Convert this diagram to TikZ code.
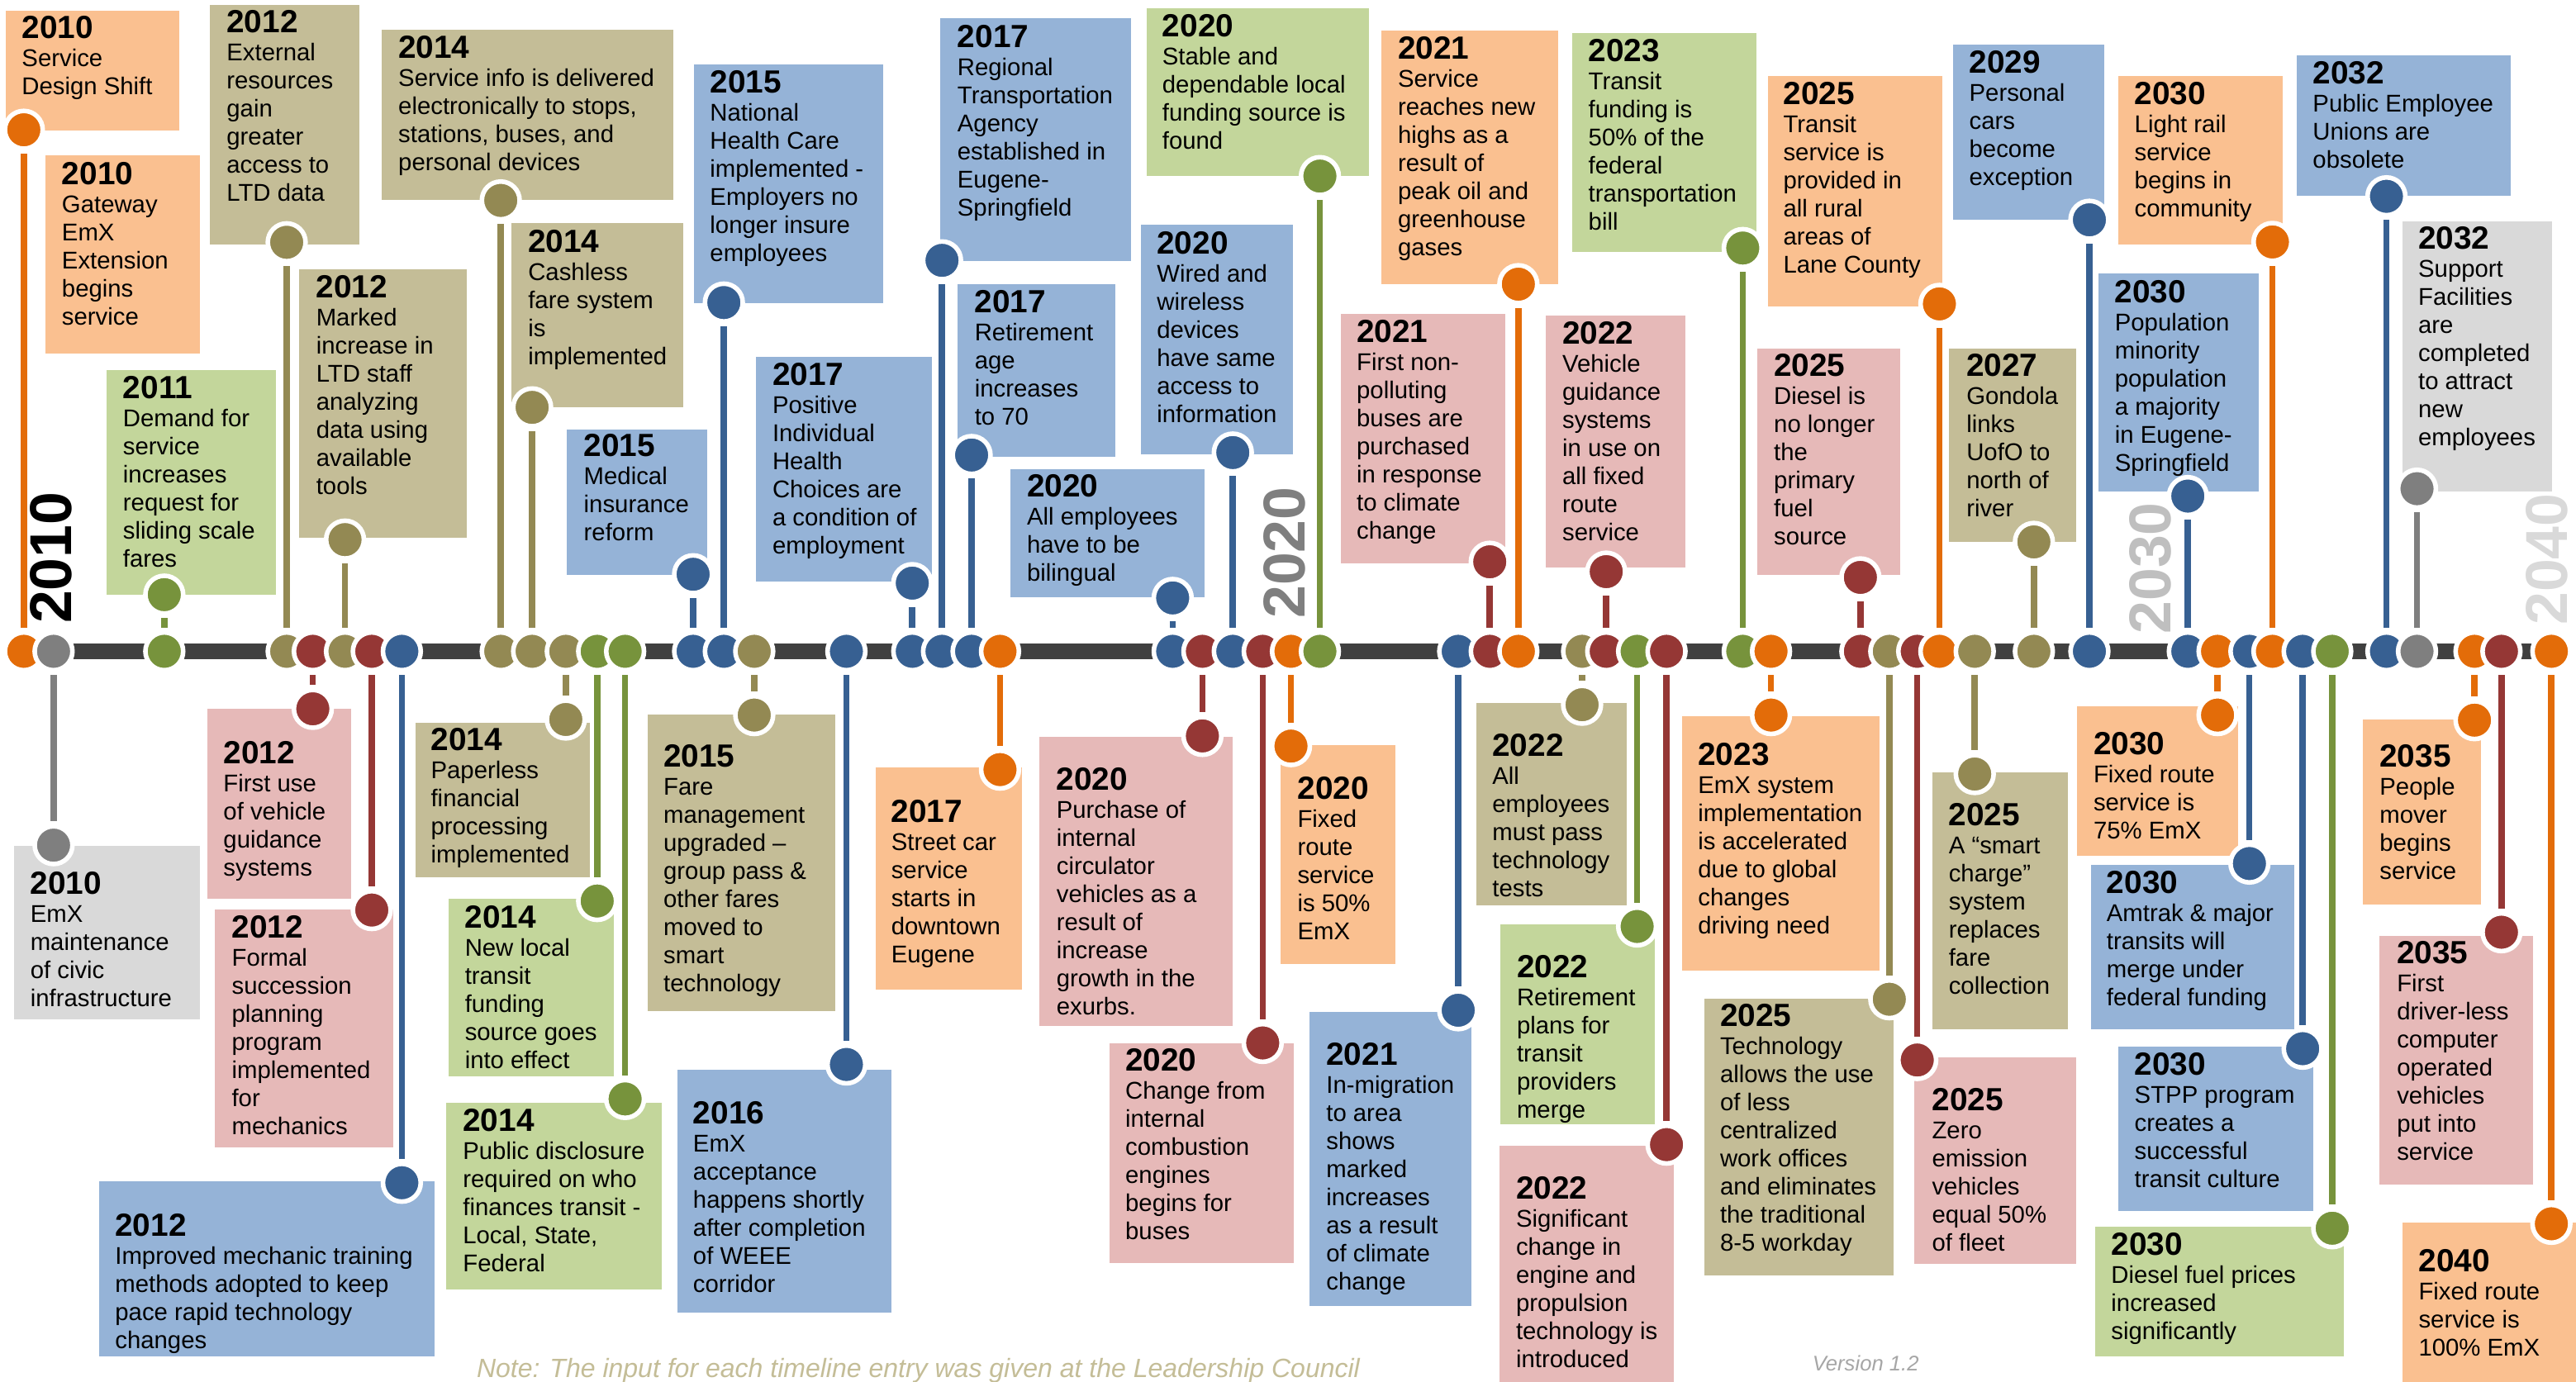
\documentclass[tikz,border=0pt]{standalone}
\usepackage{fontspec}
\setmainfont{Liberation Sans}
\usetikzlibrary{positioning}
\definecolor{oraD}{HTML}{E36C09}\definecolor{oraL}{HTML}{FAC090}
\definecolor{oliD}{HTML}{938953}\definecolor{oliL}{HTML}{C4BD97}
\definecolor{redD}{HTML}{953735}\definecolor{redL}{HTML}{E6B9B8}
\definecolor{bluD}{HTML}{376092}\definecolor{bluL}{HTML}{95B3D7}
\definecolor{grnD}{HTML}{77933C}\definecolor{grnL}{HTML}{C3D69B}
\definecolor{gryD}{HTML}{7F7F7F}\definecolor{gryL}{HTML}{D9D9D9}
\definecolor{barC}{HTML}{404040}
\definecolor{noteC}{HTML}{C4BD97}
\definecolor{verC}{HTML}{A6A6A6}
\newcommand\yr[1]{{\fontsize{19.5}{19.5}\selectfont\bfseries\rule{0pt}{15pt}#1}}
\tikzset{
  tdot/.style={circle, minimum size=23pt, inner sep=0pt, line width=2.8pt, draw=white, fill=#1},
  stemln/.style={line width=3.8pt, draw=#1, shorten >=1.5pt, shorten <=1.5pt},
  txt/.style={anchor=north west, inner sep=0pt, outer sep=0pt, align=left, font=\fontsize{14.75}{17.1}\selectfont},
  decade/.style={rotate=90, anchor=base west, inner sep=0pt, outer sep=0pt, font=\fontsize{36}{36}\selectfont\bfseries}
}
\newcommand\EVLIST{%
\EV{1}{ora}{14.5}{79}{(3.6,6.3) rectangle (109.1,79.6)}{13.3}{23.4}{2010}{Service\\Design Shift}
\EV{2}{gry}{32.6}{514.5}{(8.5,514.7) rectangle (121.9,620.5)}{18.5}{544.4}{2010}{EmX\\maintenance\\of civic\\infrastructure}
\EV{3}{grn}{100}{362}{(64.9,225.1) rectangle (168.1,362)}{74.9}{242.5}{2011}{Demand for\\service\\increases\\request for\\sliding scale\\fares}
\EV{4}{oli}{174.5}{147.5}{(127.8,3.1) rectangle (218.6,148.8)}{138}{20.1}{2012}{External\\resources\\gain\\greater\\access to\\LTD data}
\EV{5}{red}{190.4}{431.5}{(126.3,431.4) rectangle (213.8,547.1)}{136}{465}{2012}{First use\\of vehicle\\guidance\\systems}
\EV{6}{oli}{210}{328.5}{(182.2,163.9) rectangle (284.3,327.2)}{192.5}{181.1}{2012}{Marked\\increase in\\LTD staff\\analyzing\\data using\\available\\tools}
\EV{7}{red}{226.3}{554}{(130.9,553.9) rectangle (239.2,698.6)}{141.1}{571}{2012}{Formal\\succession\\planning\\program\\implemented\\for\\mechanics}
\EV{8}{blu}{244.6}{720}{(60.3,719.3) rectangle (264.3,825.7)}{70.1}{752.5}{2012}{Improved mechanic training\\methods adopted to keep\\pace rapid technology\\changes}
\EV{9}{oli}{304.8}{122}{(232.2,18) rectangle (409.8,121.6)}{242.5}{35.6}{2014}{Service info is delivered\\electronically to stops,\\stations, buses, and\\personal devices}
\EV{10}{oli}{323.9}{248}{(311.3,136) rectangle (416,247.9)}{321.5}{153.6}{2014}{Cashless\\fare system\\is\\implemented}
\EV{11}{oli}{344.4}{438}{(252.8,439.8) rectangle (359.2,534.1)}{262.3}{456.9}{2014}{Paperless\\financial\\processing\\implemented}
\EV{12}{grn}{363.5}{548.5}{(273.3,547.2) rectangle (373.4,655.2)}{283}{564.8}{2014}{New local\\transit\\funding\\source goes\\into effect}
\EV{13}{grn}{380.5}{669}{(271.5,671.2) rectangle (402.7,784.9)}{281.8}{688.8}{2014}{Public disclosure\\required on who\\finances transit -\\Local, State,\\Federal}
\EV{14}{blu}{421.9}{349.6}{(345.1,261.4) rectangle (430.4,350)}{355.4}{277.6}{2015}{Medical\\insurance\\reform}
\EV{15}{blu}{440.6}{184.2}{(422.4,39.2) rectangle (537.4,184.5)}{432.2}{56.6}{2015}{National\\Health Care\\implemented -\\Employers no\\longer insure\\employees}
\EV{16}{oli}{459.1}{435.3}{(394.2,434.8) rectangle (508.4,615.5)}{403.9}{466.7}{2015}{Fare\\management\\upgraded –\\group pass \&\\other fares\\moved to\\smart\\technology}
\EV{17}{blu}{515.2}{648}{(412.2,651.4) rectangle (542.5,798.9)}{421.9}{684.3}{2016}{EmX\\acceptance\\happens shortly\\after completion\\of WEEE\\corridor}
\EV{18}{blu}{555.3}{355}{(459.9,217.4) rectangle (567.4,354.1)}{470.2}{234.5}{2017}{Positive\\Individual\\Health\\Choices are\\a condition of\\employment}
\EV{19}{blu}{573.4}{158.5}{(572.5,11.1) rectangle (688.3,159)}{582.8}{28.7}{2017}{Regional\\Transportation\\Agency\\established in\\Eugene-\\Springfield}
\EV{20}{blu}{591.4}{277}{(583,173) rectangle (679,278.1)}{593.3}{190.4}{2017}{Retirement\\age\\increases\\to 70}
\EV{21}{ora}{608.7}{468.5}{(533,467.3) rectangle (622.1,602.2)}{542.5}{500.5}{2017}{Street car\\service\\starts in\\downtown\\Eugene}
\EV{22}{blu}{713.8}{364}{(615.1,285.7) rectangle (733.2,363.5)}{625.1}{302.4}{2020}{All employees\\have to be\\bilingual}
\EV{23}{red}{731.9}{448}{(632.8,448.8) rectangle (750.4,624.4)}{643.1}{481.1}{2020}{Purchase of\\internal\\circulator\\vehicles as a\\result of\\increase\\growth in the\\exurbs.}
\EV{24}{blu}{750.4}{275.5}{(694.4,136.9) rectangle (786.8,276.7)}{704.2}{154.5}{2020}{Wired and\\wireless\\devices\\have same\\access to\\information}
\EV{25}{red}{768.6}{634.9}{(675.2,634.9) rectangle (787.6,768.7)}{685}{651.9}{2020}{Change from\\internal\\combustion\\engines\\begins for\\buses}
\EV{26}{ora}{785.8}{454.2}{(779.4,453.8) rectangle (849.6,586.7)}{789.8}{486.5}{2020}{Fixed\\route\\service\\is 50\%\\EmX}
\EV{27}{grn}{803.4}{107.2}{(697.8,5) rectangle (833.5,106.9)}{707.5}{22.5}{2020}{Stable and\\dependable local\\funding source is\\found}
\EV{28}{blu}{887.6}{615}{(797,616) rectangle (895.6,794.8)}{807.3}{648.3}{2021}{In-migration\\to area\\shows\\marked\\increases\\as a result\\of climate\\change}
\EV{29}{red}{906.8}{342}{(816,191) rectangle (916.3,342.8)}{825.8}{208.4}{2021}{First non-\\polluting\\buses are\\purchased\\in response\\to climate\\change}
\EV{30}{ora}{924.2}{173}{(840.6,18.5) rectangle (948.4,172.8)}{850.9}{35.9}{2021}{Service\\reaches new\\highs as a\\result of\\peak oil and\\greenhouse\\gases}
\EV{31}{oli}{963}{429}{(898.4,427.8) rectangle (990,551.2)}{908.4}{460.5}{2022}{All\\employees\\must pass\\technology\\tests}
\EV{32}{red}{977.7}{348}{(940.7,192.2) rectangle (1025.9,345.5)}{951}{209.3}{2022}{Vehicle\\guidance\\systems\\in use on\\all fixed\\route\\service}
\EV{33}{grn}{996.5}{564}{(913,562.6) rectangle (1007.2,684.3)}{923.3}{595.3}{2022}{Retirement\\plans for\\transit\\providers\\merge}
\EV{34}{red}{1014.4}{696.8}{(912.5,697.4) rectangle (1019,845)}{922.8}{730}{2022}{Significant\\change in\\engine and\\propulsion\\technology is\\introduced}
\EV{35}{grn}{1060.8}{151}{(957.1,20.1) rectangle (1069,153.3)}{966.9}{37.7}{2023}{Transit\\funding is\\50\% of the\\federal\\transportation\\bill}
\EV{36}{ora}{1078}{435.3}{(1023.9,436.2) rectangle (1144,590.8)}{1033.6}{465.9}{2023}{EmX system\\implementation\\is accelerated\\due to global\\changes\\driving need}
\EV{37}{red}{1132.4}{351.5}{(1069.5,212) rectangle (1156.8,350)}{1079.8}{229.1}{2025}{Diesel is\\no longer\\the\\primary\\fuel\\source}
\EV{38}{oli}{1150}{608.3}{(1037.5,607.9) rectangle (1152.4,776.4)}{1047}{625}{2025}{Technology\\allows the use\\of less\\centralized\\work offices\\and eliminates\\the traditional\\8-5 workday}
\EV{39}{red}{1167}{645.3}{(1165,643.5) rectangle (1263.8,769.2)}{1176}{676.2}{2025}{Zero\\emission\\vehicles\\equal 50\%\\of fleet}
\EV{40}{ora}{1180.5}{185}{(1076,46.4) rectangle (1182.5,186.5)}{1085.5}{63.8}{2025}{Transit\\service is\\provided in\\all rural\\areas of\\Lane County}
\EV{41}{oli}{1202}{471.2}{(1176,470) rectangle (1258.9,626.4)}{1186.2}{502.7}{2025}{A “smart\\charge”\\system\\replaces\\fare\\collection}
\EV{42}{oli}{1238}{329.9}{(1186.5,212) rectangle (1263.8,329.9)}{1197}{229.1}{2027}{Gondola\\links\\UofO to\\north of\\river}
\EV{43}{blu}{1271.8}{133.8}{(1188.7,27.3) rectangle (1280.6,133.8)}{1198.7}{44.6}{2029}{Personal\\cars\\become\\exception}
\EV{44}{blu}{1331.7}{302}{(1277.3,166.7) rectangle (1374.7,299.3)}{1287.3}{184.2}{2030}{Population\\minority\\population\\a majority\\in Eugene-\\Springfield}
\EV{45}{ora}{1349.8}{435.3}{(1264.3,429.9) rectangle (1362.2,521)}{1274.3}{459.6}{2030}{Fixed route\\service is\\75\% EmX}
\EV{46}{blu}{1369.2}{525.7}{(1272.6,526.4) rectangle (1396.6,626.4)}{1282.3}{544}{2030}{Amtrak \& major\\transits will\\merge under\\federal funding}
\EV{47}{ora}{1383.2}{147.3}{(1289.3,46.4) rectangle (1389.6,149.1)}{1299.3}{63.8}{2030}{Light rail\\service\\begins in\\community}
\EV{48}{blu}{1401.6}{638.4}{(1289.3,637) rectangle (1408.3,737.3)}{1299.3}{654.3}{2030}{STPP program\\creates a\\successful\\transit culture}
\EV{49}{grn}{1419.6}{747.7}{(1275.1,746.8) rectangle (1426.6,825.8)}{1285.1}{764.2}{2030}{Diesel fuel prices\\increased\\significantly}
\EV{50}{blu}{1452.6}{119.5}{(1397.9,33.8) rectangle (1528.4,119.1)}{1407.8}{51.2}{2032}{Public Employee\\Unions are\\obsolete}
\EV{51}{gry}{1471.2}{297.5}{(1462.3,134.7) rectangle (1553.3,299.3)}{1472}{151.8}{2032}{Support\\Facilities\\are\\completed\\to attract\\new\\employees}
\EV{52}{ora}{1506.2}{438.4}{(1438.3,438) rectangle (1510.2,550.7)}{1448.5}{466.7}{2035}{People\\mover\\begins\\service}
\EV{53}{red}{1522.6}{567.5}{(1448.5,569.6) rectangle (1541.9,721.1)}{1459}{586.4}{2035}{First\\driver-less\\computer\\operated\\vehicles\\put into\\service}
\EV{54}{ora}{1553}{745}{(1462.3,744.1) rectangle (1572,845)}{1472.2}{774.1}{2040}{Fixed route\\service is\\100\% EmX}
}
\begin{document}
\begin{tikzpicture}[x=1pt,y=-1pt]
\useasboundingbox (0,0) rectangle (1568,841);
\fill[white] (0,0) rectangle (1568,841);
% decade labels
\node[decade, text=black] (y2010) at (43.6,379.6) {2010};
\node[decade, text=gryD] (y2020) at (794.5,376.5) {2020};
\node[decade, text=black!25] (y2030) at (1321.5,386) {2030};
\node[decade, text=black!15] (y2040) at (1562.5,380.5) {2040};
% pass 1: boxes
\def\EV#1#2#3#4#5#6#7#8#9{\fill[#2L] #5;}
\EVLIST
\fill[oraL] (27.7,94.7) rectangle (121.9,215);
% timeline bar
\coordinate (tlA) at (14,396.5);
\coordinate (tlB) at (1553,396.5);
\draw[line width=9.5pt, draw=barC] (tlA) -- (tlB);
% pass 2: timeline dots
\def\EV#1#2#3#4#5#6#7#8#9{\node[tdot=#2D] (t#1) at (#3,396.5) {};}
\EVLIST
% pass 3: box dots and stems
\def\EV#1#2#3#4#5#6#7#8#9{\node[tdot=#2D] (d#1) at (#3,#4) {};\draw[stemln=#2D] (t#1) -- (d#1);}
\EVLIST
% pass 4: texts
\def\EV#1#2#3#4#5#6#7#8#9{\node[txt] (n#1) at (#6,#7-15) {\yr{#8}\\#9};}
\EVLIST
\node[txt] (n0) at (37.7,112.3-15) {\yr{2010}\\Gateway\\EmX\\Extension\\begins\\service};
% footer
\node[anchor=base west, inner sep=0pt, font=\fontsize{16.1}{16}\selectfont\itshape, text=noteC] (note) at (290,838.5) {Note: The input for each timeline entry was given at the Leadership Council};
\node[anchor=base west, inner sep=0pt, font=\fontsize{12.9}{13}\selectfont\itshape, text=verC] (ver) at (1103,834.3) {Version 1.2};
\end{tikzpicture}
\end{document}
